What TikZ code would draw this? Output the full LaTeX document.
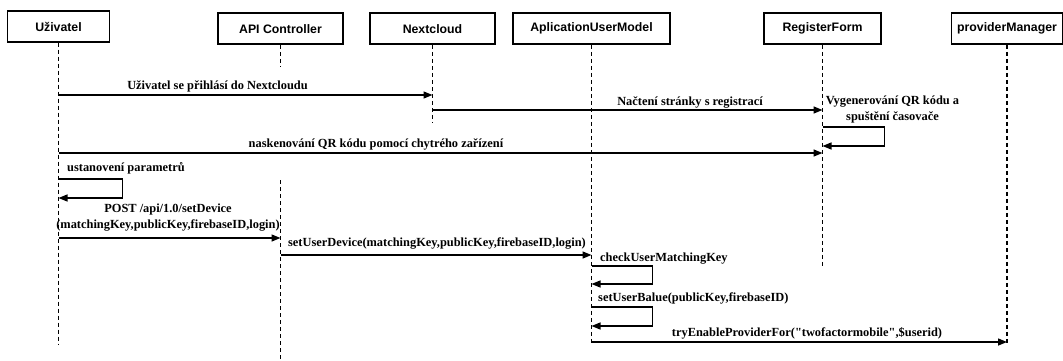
\documentclass[tikz,border=0pt]{standalone}
\usepackage{fontspec}
\setmainfont{Liberation Serif}
\newfontfamily\actorfont{Liberation Sans}
\usetikzlibrary{
	arrows.meta,
	calc}

\begin{document}
\begin{tikzpicture}[x=1pt,y=-1pt,
    actor/.style={draw,line width=1.4pt,minimum height=31pt,inner sep=0pt,
      font=\actorfont\bfseries\fontsize{12.3}{14}\selectfont},
    life/.style={line width=1.4pt,dash pattern=on 4pt off 3pt},
    msg/.style={line width=1.4pt,-{Triangle[length=9pt,width=7pt]}},
    lbl/.style={inner sep=0pt,font=\bfseries\fontsize{12.4}{16}\selectfont}]
    \useasboundingbox (0,0) rectangle (1063,361);

    \node[actor,minimum width=102pt] (U) at (58.5,26.5) {Uživatel};
    \node[actor,minimum width=125pt] (A) at (280.5,28.7) {API Controller};
    \node[actor,minimum width=125pt] (N) at (432.5,28.7) {Nextcloud};
    \node[actor,minimum width=157pt] (M) at (591.5,28.7) {AplicationUserModel};
    \node[actor,minimum width=117pt] (R) at (822.5,28.7) {RegisterForm};
    \node[actor,minimum width=111pt] (P) at (1007,28.7) {providerManager};

    % lifelines
    \draw[life] (U.south) -- (U.south |- 0,344);
    \draw[life] (A.south) -- (A.south |- 0,67);
    \draw[life] (A.south |- 0,180) -- (A.south |- 0,361);
    \draw[life] (N.south) -- (N.south |- 0,122);
    \draw[life] (M.south) -- (M.south |- 0,344);
    \draw[life] (R.south) -- (R.south |- 0,268);
    \draw[life] (P.south) -- (P.south |- 0,344);

    \node[lbl,anchor=base] (L1) at (217.5,89.5) {Uživatel se přihlásí do Nextcloudu};
    \node[lbl,anchor=base] (L2) at (690,106) {Načtení stránky s registrací};
    \node[lbl,align=center] (L3) at (892.5,110) {Vygenerování QR kódu a\\spuštění časovače};
    \node[lbl,anchor=base] (L4) at (376,147.5) {naskenování QR kódu pomocí chytrého zařízení};
    \node[lbl,anchor=base west] (L5) at (67,171.5) {ustanovení parametrů};
    \node[lbl,align=center] (L6) at (168,218) {POST /api/1.0/setDevice\\(matchingKey,publicKey,firebaseID,login)};
    \node[lbl,anchor=base] (L7) at (437,246.5) {setUserDevice(matchingKey,publicKey,firebaseID,login)};
    \node[lbl,anchor=base west] (L8) at (600,261.5) {checkUserMatchingKey};
    \node[lbl,anchor=base west] (L9) at (598,301.5) {setUserBalue(publicKey,firebaseID)};
    \node[lbl,anchor=base] (L10) at (807,336.5) {tryEnableProviderFor(\textquotedbl twofactormobile\textquotedbl,\$userid)};

    \draw[msg] (U.south |- 0,95) to (N.south |- 0,95);
    \draw[msg] (N.south |- 0,110) to (R.south |- 0,110);
    \draw[msg] (R.south |- 0,127) -- ++(62,0) |- (R.south |- 0,146);
    \draw[msg] (U.south |- 0,153) to (R.south |- 0,153);
    \draw[msg] (U.south |- 0,179) -- ++(64,0) |- (U.south |- 0,198);
    \draw[msg] (U.south |- 0,238) to (A.south |- 0,238);
    \draw[msg] (A.south |- 0,255) to (M.south |- 0,255);
    \draw[msg] (M.south |- 0,266) -- ++(61,0) |- (M.south |- 0,284);
    \draw[msg] (M.south |- 0,307) -- ++(61,0) |- (M.south |- 0,326);
    \draw[msg] (M.south |- 0,342) to (P.south |- 0,342);
  \end{tikzpicture}
\end{document}
